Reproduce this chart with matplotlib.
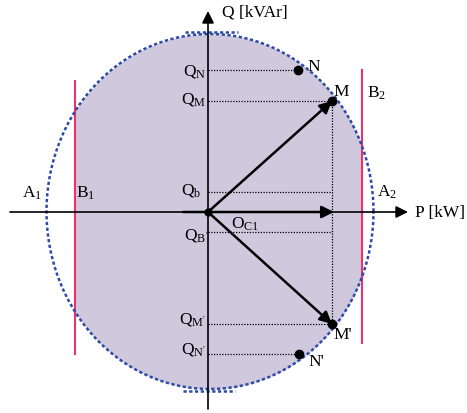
import numpy as np
import matplotlib
matplotlib.use('Agg')
import matplotlib.pyplot as plt

plt.rcParams['font.family'] = ['Liberation Serif', 'DejaVu Serif']
plt.rcParams['mathtext.fontset'] = 'stix'

# --- DATA (P, Q units; origin at the converter point) ---
circle_center = (2, 0.5)
circle_rx, circle_ry = 163.5, 177.5
p_b1, p_b2 = -133, 154            # limits B1 and B2
b1_span = (131, -142)
b2_span = (142, -131)

pts_names = ['N', 'M', "M'", "N'"]
pts_p = [90, 124, 124, 91]
pts_q = [142, 111, -112, -142]

q_b, q_bp = 20, -20
p_vec = 124

colour_fill = '#d0c9de'
colour_blue = '#2d4aa5'
colour_pink = '#e8336e'

fig = plt.figure(figsize=(4.67, 4.14), dpi=100)
ax = fig.add_axes([0, 0, 1, 1])
ax.set_xlim(-208, 259)
ax.set_ylim(-201, 213)
ax.axis('off')

# shaded region: circle cut by B1 and B2
yy = np.linspace(-circle_ry, circle_ry, 800)
half = circle_rx * np.sqrt(np.clip(1 - (yy / circle_ry) ** 2, 0, 1))
x_left = np.maximum(circle_center[0] - half, p_b1)
x_right = np.minimum(circle_center[0] + half, p_b2)
ax.fill_betweenx(yy + circle_center[1], x_left, x_right,
                 color=colour_fill, lw=0, zorder=1)

# dotted limit circle
t = np.linspace(0, 2 * np.pi, 600)
ex = circle_center[0] + circle_rx * np.cos(t)
ey = circle_center[1] + circle_ry * np.sin(t)
dots = (0, (1.3, 1.0))
ax.plot(ex, ey, color=colour_blue, lw=1.8, ls=dots, zorder=3)
ax.plot([-23, 30], [180, 180], color=colour_blue, lw=1.8, ls=dots, zorder=3)
ax.plot([-25, 27], [-179, -179], color=colour_blue, lw=1.8, ls=dots, zorder=3)

# B1 / B2 limits
ax.plot([p_b1, p_b1], b1_span, color=colour_pink, lw=1.5, zorder=2)
ax.plot([p_b2, p_b2], b2_span, color=colour_pink, lw=1.5, zorder=2)

# axes
arr = dict(arrowstyle='-|>', color='black', lw=1.2, mutation_scale=18,
           shrinkA=0, shrinkB=0)
ax.annotate('', xy=(200, 0), xytext=(-198, 0), arrowprops=arr, zorder=4)
ax.annotate('', xy=(0, 201), xytext=(0, -197), arrowprops=arr, zorder=4)
ax.text(14, 201, 'Q [kVAr]', fontsize=12.5, va='center', ha='left')
ax.text(207, 0, 'P [kW]', fontsize=12.5, va='center', ha='left')

# dotted projections
for q, p in [(pts_q[0], pts_p[0]), (pts_q[1], pts_p[1]), (q_b, p_vec),
             (q_bp, p_vec), (pts_q[2], pts_p[2]), (pts_q[3], pts_p[3])]:
    ax.plot([0, p], [q, q], color='black', lw=0.9, ls=(0, (1, 1.2)), zorder=3)
ax.plot([p_vec, p_vec], [pts_q[1], pts_q[2]], color='black', lw=0.9,
        ls=(0, (1, 1.2)), zorder=3)

# vectors
vec = dict(arrowstyle='-|>', color='black', lw=1.8, mutation_scale=18,
           shrinkA=0, shrinkB=0)
ax.annotate('', xy=(pts_p[1], pts_q[1]), xytext=(0, 0), arrowprops=vec, zorder=5)
ax.annotate('', xy=(pts_p[2], pts_q[2]), xytext=(0, 0), arrowprops=vec, zorder=5)
ax.annotate('', xy=(p_vec + 2, 0), xytext=(-25, 0), arrowprops=vec, zorder=5)

ax.scatter(pts_p, pts_q, s=36, color='black', zorder=6)
ax.scatter([0], [0], s=25, color='black', zorder=6)

# labels
fs = 12.5
ax.text(-2, 142, r'Q$_\mathregular{N}$', fontsize=fs, ha='right', va='center')
ax.text(-2, 113, r'Q$_\mathregular{M}$', fontsize=fs, ha='right', va='center')
ax.text(-7, 22, r'Q$_\mathregular{b}$', fontsize=fs, ha='right', va='center')
ax.text(0, -23, r"Q$_\mathregular{B'}$", fontsize=fs, ha='right', va='center')
ax.text(23, -11, r'O$_\mathregular{C1}$', fontsize=fs, ha='left', va='center')
ax.text(-2, -107, r"Q$_\mathregular{M'}$", fontsize=fs, ha='right', va='center')
ax.text(-2, -137, r"Q$_\mathregular{N'}$", fontsize=fs, ha='right', va='center')

ax.text(99, 146, 'N', fontsize=fs, ha='left', va='center')
ax.text(125, 121, 'M', fontsize=fs, ha='left', va='center')
ax.text(125, -122, "M'", fontsize=fs, ha='left', va='center')
ax.text(100, -149, "N'", fontsize=fs, ha='left', va='center')
ax.text(159, 120, r'B$_\mathregular{2}$', fontsize=fs, ha='left', va='center')
ax.text(169, 21, r'A$_\mathregular{2}$', fontsize=fs, ha='left', va='center')
ax.text(-186, 20, r'A$_\mathregular{1}$', fontsize=fs, ha='left', va='center')
ax.text(-132, 20, r'B$_\mathregular{1}$', fontsize=fs, ha='left', va='center')

fig.savefig('out.png', dpi=100)
